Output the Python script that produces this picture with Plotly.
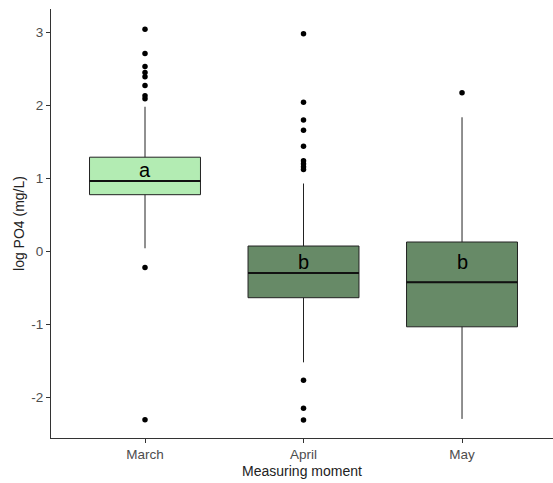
import plotly.graph_objects as go

# ---- data ----
months = ["March", "April", "May"]
q1 = [0.777, -0.632, -1.03]
median = [0.964, -0.294, -0.42]
q3 = [1.29, 0.075, 0.13]
lower_whisker = [0.044, -1.516, -2.29]
upper_whisker = [1.98, 0.93, 1.836]
outliers = [
    [3.04, 2.71, 2.53, 2.45, 2.39, 2.27, 2.13, 2.09, -0.22, -2.30],
    [2.98, 2.04, 1.80, 1.66, 1.44, 1.24, 1.20, 1.16, 1.12, -1.76, -2.145, -2.305],
    [2.17],
]
letters = ["a", "b", "b"]
letter_y = [1.115, -0.14, -0.14]
fills = ["#b3ecb3", "#678a67", "#678a67"]
y_ticks = [-2, -1, 0, 1, 2, 3]
y_ticktext = ["-2", "-1", "0", "1", "2", "3"]

box_w = 0.7
fig = go.Figure()

for i, m in enumerate(months):
    fig.add_trace(go.Box(
        x=[i], q1=[q1[i]], median=[median[i]], q3=[q3[i]],
        lowerfence=[lower_whisker[i]], upperfence=[upper_whisker[i]],
        width=box_w, fillcolor=fills[i],
        line=dict(color="#222222", width=1),
        whiskerwidth=0, boxpoints=False, showlegend=False, hoverinfo="skip",
    ))
    # thicker median line (ggplot style)
    fig.add_trace(go.Scatter(
        x=[i - box_w / 2, i + box_w / 2], y=[median[i], median[i]],
        mode="lines", line=dict(color="#111111", width=2),
        showlegend=False, hoverinfo="skip",
    ))
    fig.add_trace(go.Scatter(
        x=[i] * len(outliers[i]), y=outliers[i], mode="markers",
        marker=dict(color="black", size=5.5),
        showlegend=False, hoverinfo="skip",
    ))
    fig.add_annotation(
        x=i, y=letter_y[i], text=letters[i], showarrow=False,
        font=dict(family="Liberation Sans, Arial", size=20, color="black"),
        xanchor="center", yanchor="middle",
    )

fig.update_layout(
    width=553, height=483,
    margin=dict(l=51, r=0, t=9, b=45),
    paper_bgcolor="white", plot_bgcolor="white",
    font=dict(family="Liberation Sans, Arial", color="#4d4d4d"),
    xaxis=dict(
        range=[-0.593, 2.574], tickvals=[0, 1, 2], ticktext=months,
        showgrid=False, zeroline=False, showline=True, linecolor="#333333", linewidth=1,
        ticks="outside", ticklen=4, tickcolor="#333333",
        tickfont=dict(size=13.5, color="#4d4d4d"),
        title=dict(text="Measuring moment", font=dict(size=14, color="#222222"), standoff=4),
    ),
    yaxis=dict(
        range=[-2.551, 3.317], tickvals=y_ticks, ticktext=y_ticktext,
        showgrid=False, zeroline=False, showline=True, linecolor="#333333", linewidth=1,
        ticks="outside", ticklen=4, tickcolor="#333333",
        tickfont=dict(size=13.5, color="#4d4d4d"),
        title=dict(text="log PO4 (mg/L)", font=dict(size=14, color="#222222"), standoff=3),
    ),
)

fig.write_html("out.html")
